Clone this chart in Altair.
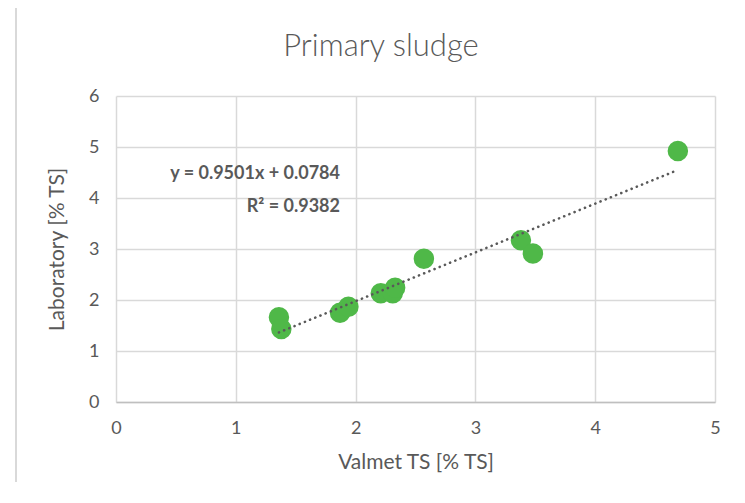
import altair as alt
import pandas as pd

valmet = [1.36, 1.38, 1.87, 1.94, 2.21, 2.31, 2.33, 2.57, 3.38, 3.48, 4.69]
laboratory = [1.66, 1.43, 1.75, 1.87, 2.13, 2.13, 2.24, 2.81, 3.17, 2.91, 4.92]
eq_lines = ["y = 0.9501x + 0.0784", "R² = 0.9382"]
title_text = "Primary sludge"

df = pd.DataFrame({"valmet": valmet, "lab": laboratory})
FONT = "Lato"
GREY = "#595959"

xs = alt.X("valmet:Q", title="Valmet TS [% TS]",
           scale=alt.Scale(domain=[0, 5], nice=False),
           axis=alt.Axis(values=[0, 1, 2, 3, 4, 5], format="d", labelFlush=False))
ys = alt.Y("lab:Q", title="Laboratory [% TS]",
           scale=alt.Scale(domain=[0, 6], nice=False),
           axis=alt.Axis(values=[0, 1, 2, 3, 4, 5, 6], format="d", labelFlush=False))

base = alt.Chart(df)

border = alt.Chart(pd.DataFrame({"a": [0]})).mark_rect(
    filled=False, stroke="#d9d9d9", strokeWidth=2
).encode(x=alt.value(-100), x2=alt.value(628), y=alt.value(-91), y2=alt.value(420))

points = base.mark_circle(size=420, color="#4fb848", opacity=1).encode(x=xs, y=ys)

trend = base.transform_regression("valmet", "lab").mark_line(
    color=GREY, strokeWidth=2.6, strokeDash=[0.1, 5.5], strokeCap="round"
).encode(x="valmet:Q", y="lab:Q")

def txt(s, x, y, size, weight, align):
    return alt.Chart(pd.DataFrame({"t": [s]})).mark_text(
        font=FONT, fontSize=size, fontWeight=weight, color=GREY, align=align, baseline="middle"
    ).encode(text="t:N", x=alt.value(x), y=alt.value(y))

eq1 = txt(eq_lines[0], 224, 78, 18, "bold", "right")
eq2 = txt(eq_lines[1], 224, 111, 18, "bold", "right")
title = txt(title_text, 265, -49, 31, 300, "center")

chart = alt.layer(points, trend, border, eq1, eq2, title).properties(
    width=599, height=306,
    padding={"left": 108, "top": 88, "right": 22, "bottom": 80},
    autosize=alt.AutoSizeParams(type="none"),
).configure_view(stroke=None).configure_axis(
    labelFont=FONT, titleFont=FONT, labelFontSize=18, titleFontSize=21,
    labelColor=GREY, titleColor=GREY, titleFontWeight="normal",
    gridColor="#d9d9d9", gridWidth=1.5, domainColor="#bfbfbf", domainWidth=1.5,
    ticks=False,
).configure_axisX(labelPadding=17, titlePadding=14, domain=True
).configure_axisY(labelPadding=17, titlePadding=21, domain=False)

chart.save("out.html", embed_options={"renderer": "svg", "actions": False})
